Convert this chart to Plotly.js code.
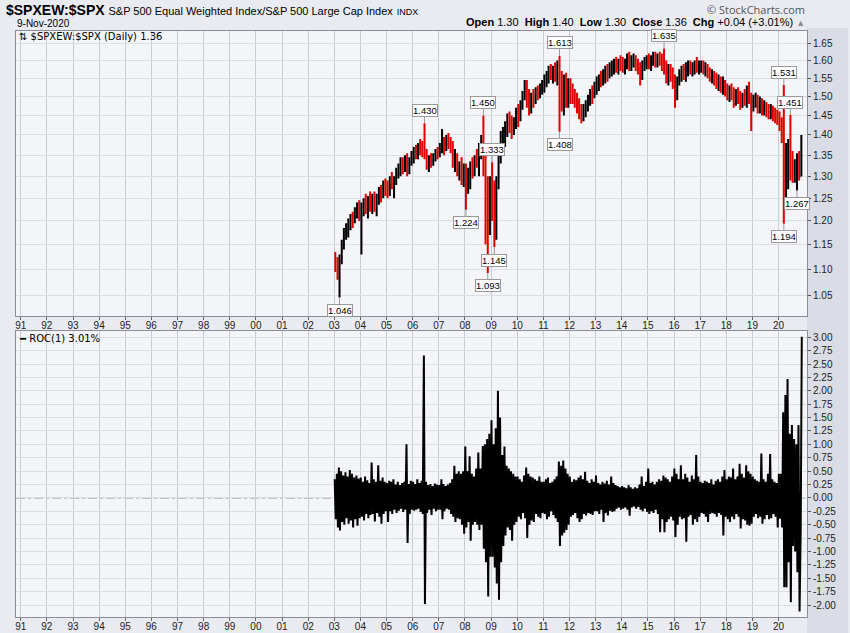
<!DOCTYPE html>
<html><head><meta charset="utf-8">
<script src="https://cdn.plot.ly/plotly-3.0.1.min.js"></script>
<style>html,body{margin:0;padding:0;background:#e9ebf0}#chart{width:850px;height:633px}</style>
</head><body><div id="chart"></div><script>
// Monthly OHLC of $SPXEW:$SPX, Jan 2003 .. Nov 2020
const startYear = 2003;
const openV = [
1.120,1.105,1.100,1.120,1.150,1.175,1.185,1.195,1.205,1.200,1.220,1.230,
1.215,1.225,1.240,1.230,1.245,1.235,1.250,1.235,1.245,1.265,1.255,1.280,
1.270,1.265,1.290,1.280,1.295,1.310,1.320,1.335,1.320,1.340,1.315,1.335,
1.350,1.360,1.350,1.370,1.365,1.355,1.350,1.330,1.340,1.330,1.345,1.355,
1.350,1.370,1.385,1.365,1.390,1.380,1.370,1.335,1.345,1.310,1.320,1.300,
1.310,1.280,1.300,1.320,1.310,1.340,1.330,1.360,1.380,1.330,1.200,1.180,
1.260,1.230,1.190,1.280,1.360,1.380,1.400,1.420,1.440,1.430,1.420,1.425,
1.455,1.450,1.480,1.505,1.530,1.490,1.470,1.500,1.485,1.515,1.510,1.525,
1.530,1.545,1.555,1.570,1.560,1.575,1.560,1.580,1.520,1.490,1.530,1.500,
1.520,1.510,1.500,1.485,1.470,1.460,1.450,1.465,1.480,1.495,1.510,1.500,
1.530,1.540,1.550,1.545,1.560,1.570,1.565,1.580,1.585,1.590,1.585,1.595,
1.590,1.580,1.595,1.605,1.590,1.600,1.605,1.585,1.575,1.560,1.590,1.595,
1.600,1.590,1.605,1.610,1.595,1.610,1.600,1.590,1.575,1.555,1.570,1.560,
1.535,1.525,1.545,1.560,1.570,1.565,1.575,1.585,1.575,1.580,1.590,1.580,
1.585,1.590,1.575,1.580,1.565,1.555,1.560,1.545,1.535,1.545,1.525,1.535,
1.515,1.500,1.520,1.510,1.490,1.505,1.495,1.485,1.500,1.490,1.510,1.495,
1.475,1.490,1.495,1.475,1.485,1.465,1.475,1.460,1.455,1.465,1.450,1.445,
1.440,1.425,1.400,1.290,1.310,1.330,1.320,1.300,1.310,1.320,1.300];
const highV = [
1.135,1.125,1.130,1.160,1.185,1.195,1.205,1.215,1.220,1.230,1.240,1.245,
1.240,1.250,1.260,1.255,1.265,1.260,1.265,1.260,1.275,1.280,1.290,1.295,
1.290,1.300,1.310,1.300,1.320,1.330,1.345,1.345,1.350,1.355,1.345,1.360,
1.370,1.375,1.380,1.390,1.385,1.430,1.365,1.350,1.355,1.355,1.365,1.370,
1.380,1.415,1.395,1.400,1.405,1.395,1.385,1.365,1.355,1.335,1.345,1.330,
1.330,1.320,1.335,1.345,1.350,1.365,1.380,1.400,1.450,1.380,1.300,1.300,
1.333,1.290,1.300,1.380,1.410,1.420,1.435,1.455,1.460,1.450,1.445,1.470,
1.480,1.490,1.515,1.545,1.545,1.520,1.510,1.520,1.525,1.530,1.535,1.545,
1.560,1.570,1.585,1.590,1.585,1.595,1.600,1.613,1.570,1.560,1.565,1.550,
1.550,1.535,1.520,1.510,1.495,1.480,1.480,1.490,1.505,1.520,1.530,1.540,
1.555,1.560,1.570,1.575,1.585,1.590,1.595,1.600,1.605,1.610,1.605,1.615,
1.610,1.605,1.620,1.625,1.615,1.620,1.615,1.605,1.595,1.600,1.610,1.615,
1.620,1.615,1.625,1.625,1.620,1.625,1.620,1.635,1.600,1.590,1.590,1.580,
1.560,1.555,1.575,1.585,1.590,1.595,1.600,1.600,1.595,1.600,1.610,1.600,
1.600,1.600,1.595,1.590,1.580,1.575,1.570,1.565,1.560,1.555,1.555,1.545,
1.535,1.530,1.535,1.525,1.520,1.525,1.515,1.510,1.520,1.530,1.540,1.510,
1.505,1.510,1.505,1.500,1.495,1.490,1.485,1.480,1.480,1.475,1.470,1.465,
1.460,1.445,1.531,1.380,1.390,1.451,1.360,1.340,1.355,1.360,1.400];
const lowV = [
1.095,1.080,1.046,1.110,1.140,1.160,1.165,1.180,1.185,1.195,1.205,1.200,
1.130,1.210,1.215,1.205,1.220,1.215,1.220,1.210,1.235,1.240,1.250,1.255,
1.250,1.255,1.270,1.250,1.280,1.295,1.300,1.305,1.310,1.300,1.305,1.325,
1.330,1.340,1.340,1.350,1.345,1.340,1.315,1.310,1.320,1.325,1.335,1.340,
1.345,1.355,1.350,1.360,1.365,1.355,1.320,1.310,1.300,1.290,1.280,1.275,
1.224,1.260,1.270,1.295,1.300,1.320,1.300,1.340,1.300,1.150,1.093,1.170,
1.200,1.145,1.160,1.270,1.330,1.350,1.370,1.395,1.405,1.390,1.400,1.415,
1.420,1.435,1.465,1.490,1.470,1.450,1.455,1.470,1.480,1.490,1.495,1.505,
1.510,1.525,1.535,1.545,1.535,1.540,1.530,1.408,1.460,1.450,1.470,1.470,
1.480,1.480,1.470,1.455,1.440,1.430,1.435,1.445,1.460,1.475,1.480,1.495,
1.505,1.515,1.525,1.530,1.535,1.540,1.550,1.555,1.560,1.565,1.560,1.570,
1.565,1.560,1.575,1.570,1.570,1.580,1.570,1.560,1.530,1.545,1.570,1.575,
1.575,1.570,1.585,1.580,1.580,1.585,1.570,1.560,1.535,1.530,1.540,1.520,
1.470,1.490,1.530,1.540,1.545,1.540,1.555,1.560,1.555,1.560,1.565,1.560,
1.565,1.560,1.555,1.550,1.540,1.535,1.530,1.520,1.515,1.510,1.505,1.500,
1.490,1.485,1.490,1.470,1.475,1.480,1.465,1.470,1.475,1.470,1.480,1.410,
1.460,1.470,1.455,1.455,1.450,1.450,1.445,1.440,1.440,1.435,1.430,1.425,
1.410,1.380,1.194,1.250,1.270,1.290,1.285,1.285,1.267,1.290,1.300];
const closeV = [
1.105,1.100,1.120,1.150,1.175,1.185,1.195,1.205,1.200,1.220,1.230,1.215,
1.225,1.240,1.230,1.245,1.235,1.250,1.235,1.245,1.265,1.255,1.280,1.270,
1.265,1.290,1.280,1.295,1.310,1.320,1.335,1.320,1.340,1.315,1.335,1.350,
1.360,1.350,1.370,1.365,1.355,1.350,1.330,1.340,1.330,1.345,1.355,1.350,
1.370,1.385,1.365,1.390,1.380,1.370,1.335,1.345,1.310,1.320,1.300,1.310,
1.280,1.300,1.320,1.310,1.340,1.330,1.360,1.380,1.330,1.200,1.180,1.260,
1.230,1.190,1.280,1.360,1.380,1.400,1.420,1.440,1.430,1.420,1.425,1.455,
1.450,1.480,1.505,1.530,1.490,1.470,1.500,1.485,1.515,1.510,1.525,1.530,
1.545,1.555,1.570,1.560,1.575,1.560,1.580,1.520,1.490,1.530,1.500,1.520,
1.510,1.500,1.485,1.470,1.460,1.450,1.465,1.480,1.495,1.510,1.500,1.530,
1.540,1.550,1.545,1.560,1.570,1.565,1.580,1.585,1.590,1.585,1.595,1.590,
1.580,1.595,1.605,1.590,1.600,1.605,1.585,1.575,1.560,1.590,1.595,1.600,
1.590,1.605,1.610,1.595,1.610,1.600,1.590,1.575,1.555,1.570,1.560,1.535,
1.525,1.545,1.560,1.570,1.565,1.575,1.585,1.575,1.580,1.590,1.580,1.585,
1.590,1.575,1.580,1.565,1.555,1.560,1.545,1.535,1.545,1.525,1.535,1.515,
1.500,1.520,1.510,1.490,1.505,1.495,1.485,1.500,1.490,1.510,1.495,1.475,
1.490,1.495,1.475,1.485,1.465,1.475,1.460,1.455,1.465,1.450,1.445,1.440,
1.425,1.400,1.290,1.310,1.330,1.320,1.300,1.310,1.320,1.300,1.360];

// ROC(1) in %, two readings per month (early, late)
const rocVals = [
0.35,-0.40,0.45,-0.55,0.57,-0.61,0.50,-0.45,0.42,-0.50,0.48,-0.38,0.40,-0.48,0.52,-0.42,0.45,-0.55,0.38,-0.40,0.42,-0.52,0.36,-0.38,
0.38,-0.35,0.30,-0.42,0.40,-0.30,0.33,-0.38,0.28,-0.32,0.66,-0.30,0.35,-0.44,0.30,-0.28,0.61,-0.35,0.32,-0.48,0.38,-0.30,0.30,-0.25,
0.28,-0.45,0.32,-0.25,0.30,-0.30,0.35,-0.22,0.25,-0.28,0.30,-0.24,0.24,-0.20,0.28,-0.26,0.30,-0.22,1.00,-0.84,0.26,-0.30,0.32,-0.22,
0.30,-0.24,0.26,-0.22,0.35,-0.20,0.28,-0.26,0.32,-0.30,2.66,-1.98,0.30,-0.28,0.24,-0.22,0.26,-0.32,0.22,-0.20,0.27,-0.25,0.25,-0.22,
0.24,-0.22,0.35,-0.40,0.26,-0.25,0.22,-0.20,0.25,-0.22,0.28,-0.30,0.35,-0.35,0.60,-0.45,0.45,-0.38,0.50,-0.40,0.45,-0.50,0.50,-0.67,
0.96,-0.55,0.50,-0.45,0.78,-0.80,0.45,-0.50,0.40,-0.45,0.55,-0.50,0.85,-0.60,0.55,-0.50,0.97,-0.95,1.00,-1.20,1.10,-1.84,1.20,-1.10,
1.45,-1.10,1.00,-1.30,1.30,-1.60,2.00,-1.90,1.50,-1.20,0.80,-0.90,0.96,-0.70,0.60,-0.55,0.55,-0.60,0.50,-0.80,0.45,-0.50,0.40,-0.45,
0.40,-0.35,0.35,-0.40,0.30,-0.28,0.42,-0.38,0.57,-0.75,0.45,-0.50,0.40,-0.42,0.38,-0.45,0.35,-0.30,0.32,-0.35,0.40,-0.38,0.30,-0.28,
0.30,-0.30,0.35,-0.40,0.38,-0.35,0.28,-0.25,0.30,-0.32,0.35,-0.38,0.40,-0.45,0.68,-0.90,0.60,-0.70,0.70,-0.65,0.55,-0.60,0.45,-0.50,
0.40,-0.35,0.30,-0.32,0.35,-0.28,0.33,-0.38,0.38,-0.45,0.42,-0.40,0.35,-0.30,0.49,-0.33,0.32,-0.28,0.28,-0.30,0.35,-0.32,0.30,-0.25,
0.42,-0.25,0.28,-0.30,0.25,-0.22,0.30,-0.45,0.27,-0.28,0.32,-0.33,0.25,-0.24,0.40,-0.26,0.28,-0.25,0.24,-0.20,0.22,-0.18,0.20,-0.22,
0.22,-0.20,0.20,-0.18,0.18,-0.22,0.24,-0.33,0.20,-0.18,0.17,-0.16,0.20,-0.20,0.18,-0.17,0.25,-0.22,0.40,-0.25,0.22,-0.20,0.30,-0.26,
0.55,-0.30,0.28,-0.25,0.30,-0.28,0.25,-0.22,0.30,-0.30,0.35,-0.64,0.32,-0.40,0.42,-0.64,0.38,-0.45,0.35,-0.40,0.30,-0.35,0.40,-0.42,
0.55,-0.73,0.45,-0.50,0.35,-0.35,0.61,-0.40,0.35,-0.38,0.45,-0.82,0.38,-0.35,0.30,-0.32,0.42,-0.50,0.35,-0.40,0.80,-0.45,0.40,-0.35,
0.30,-0.28,0.28,-0.30,0.32,-0.35,0.30,-0.45,0.28,-0.30,0.35,-0.28,0.25,-0.30,0.32,-0.35,0.35,-0.28,0.30,-0.32,0.40,-0.70,0.52,-0.35,
0.35,-0.40,0.40,-0.45,0.38,-0.35,0.55,-0.40,0.35,-0.30,0.40,-0.35,0.64,-0.57,0.45,-0.40,0.38,-0.42,0.61,-0.50,0.50,-0.52,0.45,-0.48,
0.40,-0.35,0.35,-0.30,0.32,-0.38,0.30,-0.35,0.83,-0.48,0.35,-0.40,0.30,-0.32,0.45,-0.40,0.82,-0.38,0.35,-0.30,0.30,-0.35,0.28,-0.55,
0.45,-0.39,0.45,-0.55,1.60,-1.67,1.92,-1.67,2.22,-1.20,1.20,-1.95,1.36,-0.90,1.10,-1.00,1.00,-1.39,1.36,-2.12,-0.60,3.01];

// labelled highs / lows
const peakDates = ['2003-03-15','2006-06-15','2008-01-15','2008-09-15','2008-11-15','2009-01-15','2009-02-15','2011-08-15','2011-08-15','2015-08-15','2020-03-15','2020-03-15','2020-06-15','2020-09-15'];
const peakVals  = [1.046,1.430,1.224,1.450,1.093,1.333,1.145,1.613,1.408,1.635,1.531,1.194,1.451,1.267];
const peakSide  = ['low','high','low','high','low','high','low','high','low','high','high','low','high','low'];

const yearTicks = [1991,1992,1993,1994,1995,1996,1997,1998,1999,2000,2001,2002,2003,2004,2005,2006,2007,2008,2009,2010,2011,2012,2013,2014,2015,2016,2017,2018,2019,2020];
const priceTicks = [1.05,1.10,1.15,1.20,1.25,1.30,1.35,1.40,1.45,1.50,1.55,1.60,1.65];
const rocTicks = [-2,-1.75,-1.5,-1.25,-1,-0.75,-0.5,-0.25,0,0.25,0.5,0.75,1,1.25,1.5,1.75,2,2.25,2.5,2.75,3];

function monthStr(i, day){
  const y = startYear + Math.floor(i/12), m = i%12 + 1;
  return y + '-' + (m<10?'0':'') + m + '-' + day;
}
const barDates = openV.map((_,i)=>monthStr(i,'15'));
const rocDates = rocVals.map((_,k)=>monthStr(Math.floor(k/2), k%2===0?'06':'21'));

const px2x = x => (x-16)/791;
const px2y = y => (617-y)/586;
const FONT = 'Liberation Sans, Arial, sans-serif';
const xRange = ['1990-10-27','2021-02-02'];

const ohlc = {
  type:'ohlc', x:barDates, open:openV, high:highV, low:lowV, close:closeV,
  xaxis:'x', yaxis:'y', hoverinfo:'skip', tickwidth:0.4,
  increasing:{line:{color:'#000000', width:2}},
  decreasing:{line:{color:'#e00000', width:2}}
};
const roc = {
  type:'scatter', mode:'lines', x:rocDates, y:rocVals, xaxis:'x2', yaxis:'y2',
  line:{color:'#000000', width:2}, hoverinfo:'skip'
};

const xCommon = {
  type:'date', range:xRange,
  tickvals:yearTicks.map(y=>y+'-01-01'), ticktext:yearTicks.map(y=>String(y).slice(2)),
  ticks:'outside', ticklen:3, tickcolor:'#666', ticklabelstandoff:-3,
  showgrid:true, gridcolor:'#c9cbd3', gridwidth:1,
  showline:true, mirror:true, linecolor:'#8b8e98', linewidth:1,
  tickfont:{family:FONT, size:10, color:'#222'}, zeroline:false, fixedrange:true
};
const yCommon = {
  side:'right', ticks:'outside', ticklen:3, tickcolor:'#555', showgrid:true, gridcolor:'#dcdee5',
  showline:true, mirror:true, linecolor:'#8b8e98', linewidth:1, zeroline:false,
  tickfont:{family:FONT, size:10, color:'#222'}, fixedrange:true
};

const annotations = [];
peakDates.forEach((d,i)=>{
  const hi = peakSide[i]==='high';
  annotations.push({
    x:d, y:Math.log10(peakVals[i]), xref:'x', yref:'y',
    text:peakVals[i].toFixed(3), showarrow:true, arrowhead:0, arrowwidth:1, arrowcolor:'#9a9a9a',
    ax:0, ay: hi ? -13 : 13, standoff:0,
    bgcolor:'#ffffff', bordercolor:'#9a9a9a', borderwidth:1, borderpad:0,
    font:{family:FONT, size:9.5, color:'#000'}
  });
});
annotations.push(
  {xref:'paper', yref:'paper', x:px2x(4), y:px2y(10), xanchor:'left', yanchor:'middle', showarrow:false,
   text:"<b>$SPXEW:$SPX</b> <span style='font-size:11px'>S&amp;P 500 Equal Weighted Index/S&amp;P 500 Large Cap Index</span> <span style='font-size:9px'>INDX</span>",
   font:{family:FONT, size:14, color:'#000'}},
  {xref:'paper', yref:'paper', x:px2x(15), y:px2y(23.5), xanchor:'left', yanchor:'middle', showarrow:false,
   text:'9-Nov-2020', font:{family:FONT, size:10, color:'#000'}},
  {xref:'paper', yref:'paper', x:px2x(807), y:px2y(9), xanchor:'right', yanchor:'middle', showarrow:false,
   text:'© StockCharts.com', font:{family:'Open Sans, sans-serif', size:11, color:'#555'}},
  {xref:'paper', yref:'paper', x:px2x(807), y:px2y(22.5), xanchor:'right', yanchor:'middle', showarrow:false,
   text:"<b>Open</b> 1.30  <b>High</b> 1.40  <b>Low</b> 1.30  <b>Close</b> 1.36  <b>Chg</b> +0.04 (+3.01%) <span style='color:#8a8d96;font-size:9px'>▲</span>",
   font:{family:FONT, size:11, color:'#000'}},
  {xref:'paper', yref:'paper', x:px2x(17), y:px2y(36), xanchor:'left', yanchor:'middle', showarrow:false,
   text:"<span style='font-size:10px'>⇅</span> $SPXEW:$SPX (Daily) 1.36", font:{family:'DejaVu Sans, sans-serif', size:10, color:'#000'}},
  {xref:'paper', yref:'paper', x:px2x(17), y:px2y(338), xanchor:'left', yanchor:'middle', showarrow:false,
   text:"━ ROC(1) 3.01%", font:{family:'DejaVu Sans, sans-serif', size:10, color:'#000'}}
);

const layout = {
  width:850, height:633, margin:{l:16, r:43, t:31, b:16},
  paper_bgcolor:'#e9ebf0', plot_bgcolor:'#f4f5f9', showlegend:false,
  font:{family:FONT},
  xaxis: Object.assign({}, xCommon, {anchor:'y', domain:[0,1], rangeslider:{visible:false}}),
  xaxis2: Object.assign({}, xCommon, {anchor:'y2', domain:[0,1]}),
  yaxis: Object.assign({}, yCommon, {type:'log', domain:[px2y(316),1], range:[0.0051,0.2271],
         tickvals:priceTicks, ticktext:priceTicks.map(v=>v.toFixed(2)), anchor:'x'}),
  yaxis2: Object.assign({}, yCommon, {domain:[0,px2y(330.7)], range:[-2.224,3.123],
         tickvals:rocTicks, ticktext:rocTicks.map(v=>v.toFixed(2)), anchor:'x2'}),
  shapes:[
    {type:'rect', xref:'paper', yref:'paper', x0:1, x1:px2x(848), y0:px2y(633), y1:px2y(28),
     fillcolor:'#dadde5', line:{width:0}, layer:'below'},
    {type:'line', xref:'paper', yref:'y2', x0:0, x1:1, y0:0, y1:0,
     line:{color:'#777777', width:1, dash:'dashdot'}, layer:'below'}
  ],
  annotations:annotations
};

Plotly.newPlot('chart', [ohlc, roc], layout, {displayModeBar:false, staticPlot:true});
</script></body></html>
